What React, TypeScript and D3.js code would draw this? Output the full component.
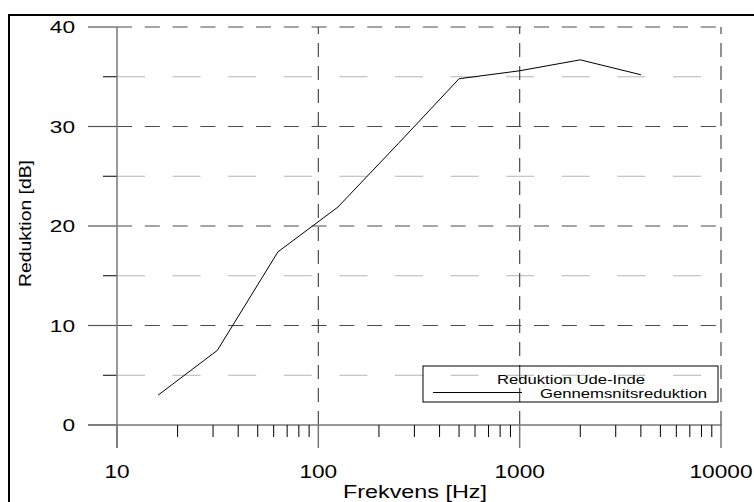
import React from "react";
import * as d3 from "d3";

const freqs = [16, 31.5, 63, 125, 250, 500, 1000, 2000, 4000];
const reduction = [3.0, 7.5, 17.4, 21.9, 28.3, 34.8, 35.6, 36.7, 35.2];
const xMajor = [10, 100, 1000, 10000];
const xMinor = [20, 30, 40, 50, 60, 70, 80, 90, 200, 300, 400, 500, 600, 700, 800, 900, 2000, 3000, 4000, 5000, 6000, 7000, 8000, 9000];
const yMajor = [0, 10, 20, 30, 40];
const yMinor = [5, 15, 25, 35];
const legendTitle = "Reduktion Ude-Inde";
const seriesName = "Gennemsnitsreduktion";
const xTitle = "Frekvens [Hz]";
const yTitle = "Reduktion [dB]";

export default function App() {
  const x = d3.scaleLog().domain([10, 10000]).range([117, 721]);
  const y = d3.scaleLinear().domain([0, 40]).range([425, 27]);
  const line = d3
    .line<number>()
    .x((_, i) => x(freqs[i]))
    .y((d) => y(d));
  const font = "Liberation Sans, Arial, sans-serif";
  const digitW = 12.6;
  return (
    <svg
      width={754}
      height={502}
      style={{ position: "absolute", left: 0, top: 0, display: "block" }}
      fontFamily={font}
    >
      <rect x={0} y={0} width={754} height={502} fill="#fff" />
      <rect x={9} y={15} width={800} height={600} fill="none" stroke="#000" strokeWidth={2} />

      {/* minor horizontal grid */}
      {yMinor.map((v) => (
        <g key={"ym" + v}>
          <line x1={117} x2={721} y1={y(v)} y2={y(v)} stroke="#b4b4b4" strokeWidth={1} strokeDasharray="28 27.6" />
          <line x1={103} x2={117} y1={y(v)} y2={y(v)} stroke="#000" strokeWidth={1} />
        </g>
      ))}
      {/* major horizontal grid */}
      {yMajor.map((v) => {
        const s = String(v);
        return (
          <g key={"yM" + v}>
            {v !== 0 && (
              <line x1={117} x2={721} y1={y(v)} y2={y(v)} stroke="#4a4a4a" strokeWidth={1.2} strokeDasharray="15 12.8" />
            )}
            <line x1={88} x2={117} y1={y(v)} y2={y(v)} stroke="#555" strokeWidth={1.2} />
            <text
              x={75 - digitW * s.length}
              y={y(v)}
              dy="0.36em"
              fontSize={17}
              fill="#000"
              textLength={digitW * s.length}
              lengthAdjust="spacingAndGlyphs"
            >
              {s}
            </text>
          </g>
        );
      })}
      {/* vertical grid */}
      {xMajor.slice(1).map((v) => (
        <line key={"xg" + v} x1={x(v)} x2={x(v)} y1={y(0)} y2={y(40)} stroke="#4a4a4a" strokeWidth={1.2} strokeDasharray="14 9" />
      ))}
      {/* x axis */}
      <line x1={88} x2={722} y1={y(0)} y2={y(0)} stroke="#777" strokeWidth={1.5} />
      {/* y axis */}
      <line x1={117} x2={117} y1={y(40)} y2={448} stroke="#777" strokeWidth={1.5} />
      {xMajor.map((v) => {
        const s = String(v);
        const w = digitW * s.length;
        return (
          <g key={"xM" + v}>
            <line x1={x(v)} x2={x(v)} y1={y(0)} y2={448} stroke="#777" strokeWidth={1.5} />
            <text
              x={x(v) - w / 2}
              y={471.5}
              dy="0.36em"
              fontSize={17.5}
              fill="#000"
              textLength={w}
              lengthAdjust="spacingAndGlyphs"
            >
              {s}
            </text>
          </g>
        );
      })}
      {xMinor.map((v) => (
        <line key={"xm" + v} x1={x(v)} x2={x(v)} y1={y(0)} y2={437} stroke="#000" strokeWidth={1} />
      ))}

      {/* data line */}
      <path d={line(reduction) || ""} fill="none" stroke="#000" strokeWidth={1} />

      {/* legend */}
      <rect x={423} y={366} width={295} height={36} fill="none" stroke="#000" strokeWidth={1} />
      <text x={497} y={379} dy="0.36em" fontSize={12.5} fill="#000" textLength={148} lengthAdjust="spacingAndGlyphs">
        {legendTitle}
      </text>
      <line x1={433} x2={522} y1={392.5} y2={392.5} stroke="#000" strokeWidth={1} />
      <text x={540} y={393} dy="0.36em" fontSize={12.5} fill="#000" textLength={167} lengthAdjust="spacingAndGlyphs">
        {seriesName}
      </text>

      {/* axis titles */}
      <text x={343} y={492} dy="0.36em" fontSize={17.5} fill="#000" textLength={144} lengthAdjust="spacingAndGlyphs">
        {xTitle}
      </text>
      <text
        transform={`translate(25,287) rotate(-90)`}
        dy="0.36em"
        fontSize={16}
        fill="#000"
        textLength={127}
        lengthAdjust="spacingAndGlyphs"
      >
        {yTitle}
      </text>
    </svg>
  );
}
